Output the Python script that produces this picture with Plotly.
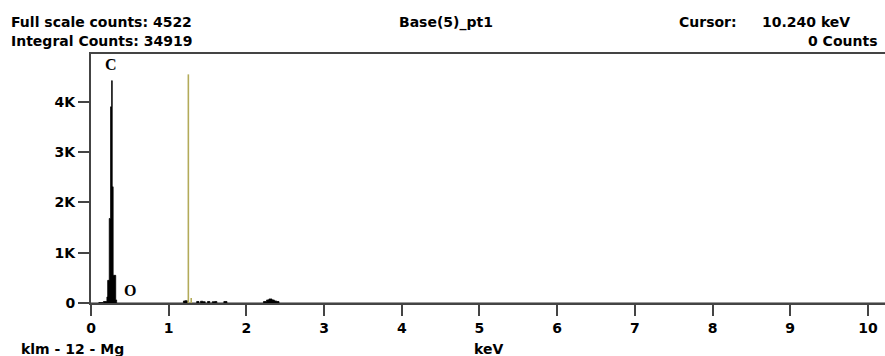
import plotly.graph_objects as go

# ---- data ----
spectrum_keV = [0.00, 0.10, 0.16, 0.205, 0.215, 0.235, 0.252, 0.266, 0.273, 0.285, 0.318, 0.33,
                1.19, 1.21, 1.24,
                1.36, 1.39, 1.41, 1.44, 1.47, 1.50, 1.53, 1.56, 1.59, 1.62,
                1.71, 1.75,
                2.22, 2.26, 2.29, 2.33, 2.36, 2.39, 2.42, 10.24]
spectrum_counts = [0, 10, 30, 120, 450, 1680, 3900, 4420, 2310, 550, 60, 0,
                   40, 45, 0,
                   30, 0, 35, 25, 0, 30, 0, 25, 30, 0,
                   30, 0,
                   30, 60, 80, 60, 40, 30, 0, 0]

marker_keV = [1.253, 1.29]
marker_counts = [4545, 100]

peak_labels = ["C", "O"]
peak_label_keV = [0.26, 0.50]
peak_label_counts = [4750, 250]

x_ticks = [0, 1, 2, 3, 4, 5, 6, 7, 8, 9, 10]
y_ticks = [0, 1000, 2000, 3000, 4000]
y_tick_labels = ["0", "1K", "2K", "3K", "4K"]

full_scale = 4522
integral = 34919
title_text = "Base(5)_pt1"
cursor_keV = "10.240"
cursor_counts = 0

AX = "#444444"
FONT = "DejaVu Sans"

fig = go.Figure()
fig.add_trace(go.Scatter(x=spectrum_keV, y=spectrum_counts, mode="lines",
                         line=dict(color="black", width=0.8, shape="hv"),
                         fill="tozeroy", fillcolor="black", hoverinfo="skip"))
for xk, yc in zip(marker_keV, marker_counts):
    fig.add_trace(go.Scatter(x=[xk, xk], y=[0, yc], mode="lines",
                             line=dict(color="#b3ab5a", width=1.6), hoverinfo="skip"))

for t, xk, yc in zip(peak_labels, peak_label_keV, peak_label_counts):
    fig.add_annotation(x=xk, y=yc, text=f"<b>{t}</b>", showarrow=False,
                       font=dict(family="Liberation Serif", size=16, color="black"))

bold = dict(family=FONT, size=14, color="black")
fig.add_annotation(xref="paper", yref="paper", x=-91/794, y=1, yshift=32, xanchor="left", yanchor="middle",
                   xshift=9, text=f"<b>Full scale counts: {full_scale}</b>", showarrow=False, font=bold)
fig.add_annotation(xref="paper", yref="paper", x=-91/794, y=1, yshift=13, xanchor="left", yanchor="middle",
                   xshift=9, text=f"<b>Integral Counts: {integral}</b>", showarrow=False, font=bold)
fig.add_annotation(xref="paper", yref="paper", x=(446-91)/794, y=1, yshift=32, xanchor="center", yanchor="middle",
                   text=f"<b>{title_text}</b>", showarrow=False, font=bold)
fig.add_annotation(xref="paper", yref="paper", x=(677-91)/794, y=1, yshift=32, xanchor="left", yanchor="middle",
                   text="<b>Cursor:</b>", showarrow=False, font=bold)
fig.add_annotation(xref="paper", yref="paper", x=(852-91)/794, y=1, yshift=32, xanchor="right", yanchor="middle",
                   text=f"<b>{cursor_keV} keV</b>", showarrow=False, font=bold)
fig.add_annotation(xref="paper", yref="paper", x=(879-91)/794, y=1, yshift=13, xanchor="right", yanchor="middle",
                   text=f"<b>{cursor_counts} Counts</b>", showarrow=False, font=bold)
fig.add_annotation(xref="paper", yref="paper", x=(19-91)/794, y=0, yshift=-46, xanchor="left", yanchor="middle",
                   text="<b>klm - 12 - Mg</b>", showarrow=False, font=bold)
fig.add_annotation(xref="paper", yref="paper", x=(488-91)/794, y=0, yshift=-46, xanchor="center", yanchor="middle",
                   text="<b>keV</b>", showarrow=False, font=bold)

fig.update_layout(
    width=885, height=356, autosize=False,
    margin=dict(l=91, r=0, t=54, b=53, pad=0),
    paper_bgcolor="white", plot_bgcolor="white",
    showlegend=False,
    font=dict(family=FONT, size=14, color="black"),
    xaxis=dict(range=[0, 10.22], tickvals=x_ticks, ticktext=[f"<b>{v}</b>" for v in x_ticks],
               showgrid=False, zeroline=False, showline=True, linecolor=AX, linewidth=2,
               mirror=True, ticks="outside", ticklen=11, tickwidth=2, tickcolor=AX,
               tickfont=dict(family=FONT, size=14, color="black")),
    yaxis=dict(range=[0, 4950], tickvals=y_ticks, ticktext=[f"<b>{v}</b>" for v in y_tick_labels],
               showgrid=False, zeroline=False, showline=True, linecolor=AX, linewidth=2,
               ticks="outside", ticklen=11, tickwidth=2, tickcolor=AX,
               tickfont=dict(family=FONT, size=14, color="black")),
)

fig.write_html("out.html")
